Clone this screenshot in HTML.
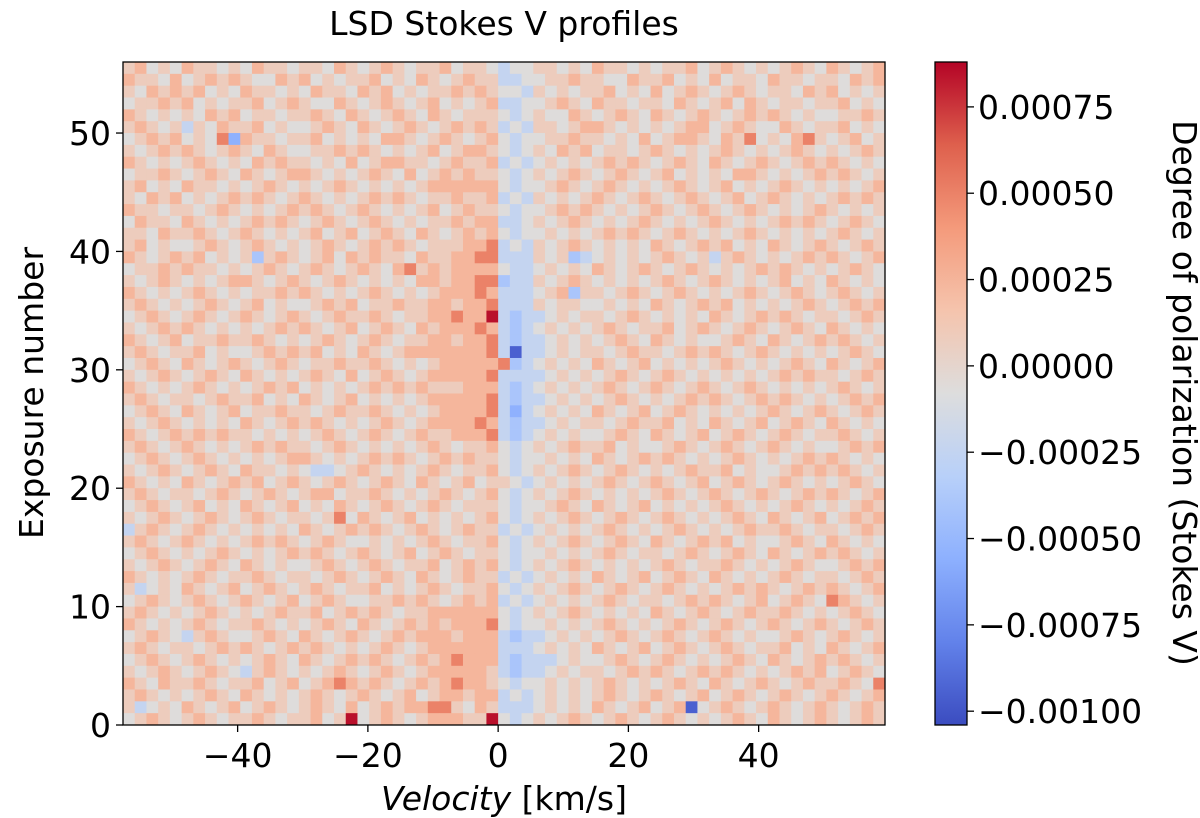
<!DOCTYPE html>
<html><head><meta charset="utf-8"><style>
html,body{margin:0;padding:0;background:#fff;}
svg{display:block;font-family:"DejaVu Sans","Liberation Sans",sans-serif;}
</style></head><body>
<svg id="chart" width="1200" height="818" xmlns="http://www.w3.org/2000/svg">
<text x="504" y="35" font-size="33" text-anchor="middle">LSD Stokes V profiles</text>
<g id="cells"></g>
<g id="axes"></g>
<text x="504" y="810" font-size="33" text-anchor="middle"><tspan font-style="italic">Velocity</tspan> [km/s]</text>
<text transform="translate(43,393) rotate(-90)" font-size="33" text-anchor="middle">Exposure number</text>
<g id="cbar"></g>
<text transform="translate(1173,393) rotate(90)" font-size="33" text-anchor="middle">Degree of polarization (Stokes V)</text>
</svg>
<script>
// data: rows from top (exposure 55) to bottom (exposure 0), 65 velocity bins each
const rowCodes = [
"67565 76656 57665 66576 56765 66756 65455 66565 76656 56675 67656 56765 76567",
"76657 56767 65576 75656 67565 76567 66445 56676 65576 67565 75665 76656 65767",
"65767 67565 76656 57665 76756 56676 76554 65656 67565 75676 56765 66576 75656",
"56676 75656 67567 65576 56765 67565 67445 56765 76656 65765 67576 56656 67565",
"76565 65767 56656 67657 65676 57656 66545 65576 56765 76567 65676 76565 56676",
"67656 46576 67565 56765 76567 65676 76454 66567 76565 65677 56765 57656 67565",
"56767 56582 76656 67565 65776 56765 67545 56676 65657 56776 57685 65786 56756",
"65676 76567 65765 56676 76565 67567 76545 65767 56656 76565 67656 56765 65676",
"76565 67656 57676 65657 56776 65676 67454 56565 67676 56765 76567 65676 76565",
"56676 56765 76567 76565 67657 56767 66545 65676 56765 67565 65776 56567 67656",
"67565 76656 56765 65676 56565 67777 77545 56765 67656 56765 67565 67656 56567",
"65767 56567 67656 76565 67676 56676 67454 65656 76567 65676 56756 76565 67676",
"76656 65676 56567 67656 76565 67567 66545 56767 65656 76567 65676 56567 65656",
"57665 76565 67676 56765 67656 56676 77445 65676 56567 65656 76565 67676 56765",
"66576 67656 76565 67567 56765 76567 67545 56565 67676 56765 65676 56565 67656",
"67565 56765 67656 56765 67676 56667 78454 65676 56565 76567 67565 76567 65676",
"76567 67565 63676 56757 67665 76677 88444 65634 56565 67656 46765 65676 76567",
"56676 76656 56765 67656 76578 67677 77544 56565 76567 65676 56567 67656 56765",
"65676 56567 76567 65676 56565 77677 88344 65676 56565 67656 76565 67565 76565",
"76565 67656 56676 76565 67656 56777 87444 56736 65676 56765 65676 56765 67656",
"67656 56765 67565 56767 56676 67767 78444 65665 56565 76567 67565 65676 56767",
"56765 67656 76567 65676 67656 67787 79434 45656 65676 56565 76567 67656 65676",
"65676 76565 65676 76567 56765 76777 87434 56565 67656 67567 65676 56765 76565",
"76567 56676 67656 56765 67656 67767 78434 45656 56765 76565 56765 76567 67656",
"67656 67565 56767 67565 76567 77777 78404 45656 65676 65676 76567 65656 56765",
"56765 76567 65676 56676 67656 56777 77834 56565 76567 56565 67656 56765 76567",
"65676 56765 76565 67657 56765 67777 78444 45656 56765 67656 56565 67676 65676",
"76565 67656 56767 56565 67676 76667 77434 56565 67656 76567 65676 56565 67656",
"67656 65676 67565 76567 56565 67777 78434 45656 56765 65676 76567 67656 56767",
"56765 76567 56676 65676 67656 56777 78424 56565 76567 56765 65656 76567 65676",
"65676 56565 76567 67656 56765 67777 87434 45656 65676 67565 76567 56765 76565",
"76567 67676 65656 56765 67656 76677 78434 56565 56765 76567 56765 67656 67656",
"67656 76565 67676 65676 56565 67656 67545 65676 67565 56765 67656 76565 56767",
"56765 67656 56567 76565 67676 56767 66545 56565 76567 67656 56765 65676 76565",
"65676 56765 76656 54456 76565 67656 67545 65676 56765 65676 67565 56767 67656",
"76565 76567 67567 65676 56765 76567 56654 56565 67656 76567 56765 67656 56765",
"67656 65676 56765 67756 67656 56765 67545 65676 56565 67656 76567 65676 76567",
"56765 67565 76567 56576 56765 67656 66545 56765 76567 56565 67656 56765 65676",
"65676 56765 67656 65685 76567 56565 67545 65676 56765 67656 56765 76567 56767",
"46765 67656 56565 76567 67656 76567 66454 56565 67656 56765 65676 67656 65676",
"67656 76565 67676 56765 56565 67656 67545 65676 56765 76567 67565 56765 76565",
"56765 65676 56567 67656 76567 56765 66545 56565 67656 65676 56765 76567 67656",
"65676 56765 76565 56765 67656 67567 67545 65676 56565 67656 67656 56765 56767",
"76565 67656 67656 65676 56765 76567 66454 56565 76567 56765 76565 67656 65676",
"64565 76567 56765 67656 67565 67656 67545 65676 56765 67656 56767 65676 76567",
"56765 67656 76567 56765 56676 76567 67454 56565 67656 65676 76567 56765 87656",
"67656 56765 65676 67567 67656 67777 77545 65676 56565 76567 65676 67656 56765",
"76565 67656 67656 56765 76567 67677 78545 56565 67656 56765 67656 76567 65676",
"56765 46765 56765 76567 65676 77767 77434 45656 56765 67656 76565 56765 67656",
"67656 65676 76567 67656 56765 67777 77444 56565 76567 56765 67656 67565 76567",
"56765 67656 56765 76567 67656 76787 77434 44565 56765 67656 56765 76567 67656",
"65676 56765 46765 65676 56765 67777 76434 45656 65676 76567 67656 56767 56765",
"76576 67656 67567 56787 67656 76787 76545 56565 67656 56765 76567 65676 67658",
"67656 56765 76565 67656 76567 56776 77454 56565 67656 76567 56765 67656 76567",
"64565 76567 56765 67657 56767 78865 76444 56565 76567 56705 67656 76567 65676",
"56765 67656 67656 67569 56765 67776 69545 65676 56765 67656 56765 76567 65676"
];
const codeValues = [-0.00095,-0.00075,-0.00055,-0.0004,-0.00024,-0.00007,0.00008,0.00024,0.0005,0.00085];
const xTicks = [-40,-20,0,20,40];
const yTicks = [0,10,20,30,40,50];
const cbTicks = [0.00075,0.0005,0.00025,0,-0.00025,-0.0005,-0.00075,-0.001];
const cbLabels = ["0.00075","0.00050","0.00025","0.00000","\u22120.00025","\u22120.00050","\u22120.00075","\u22120.00100"];

const NS="http://www.w3.org/2000/svg";
const P={l:123,r:885,t:62,b:725};
const VMIN=-57.6, VMAX=59.4, DV=1.8, NROWS=56;
const CMIN=-0.00104, CMAX=0.00088;
const xs=v=>P.l+(v-VMIN)/(VMAX-VMIN)*(P.r-P.l);
const ys=e=>P.b-e/NROWS*(P.b-P.t);
const stops=[[0,59,76,192],[0.125,98,130,234],[0.25,141,176,254],[0.375,184,208,249],[0.5,221,221,221],[0.625,245,196,173],[0.75,244,154,123],[0.875,222,96,77],[1,180,4,38]];
function cmap(val){
  let t=(val-CMIN)/(CMAX-CMIN); t=Math.max(0,Math.min(1,t));
  for(let i=1;i<stops.length;i++){ if(t<=stops[i][0]){const a=stops[i-1],b=stops[i];const f=(t-a[0])/(b[0]-a[0]);
    return `rgb(${Math.round(a[1]+f*(b[1]-a[1]))},${Math.round(a[2]+f*(b[2]-a[2]))},${Math.round(a[3]+f*(b[3]-a[3]))})`;}}
  return "rgb(180,4,38)";
}
function mk(tag,attrs,parent){const e=document.createElementNS(NS,tag);for(const k in attrs)e.setAttribute(k,attrs[k]);parent.appendChild(e);return e;}
const cells=document.getElementById('cells');
rowCodes.forEach((rs,ri)=>{
  const codes=rs.replace(/ /g,'');
  const exp=NROWS-1-ri;
  for(let i=0;i<codes.length;i++){
    const v0=VMIN+i*DV;
    const x0=xs(v0),x1=xs(v0+DV),y0=ys(exp+1),y1=ys(exp);
    const r=mk('rect',{x:x0.toFixed(2),y:y0.toFixed(2),width:(x1-x0+0.4).toFixed(2),height:(y1-y0+0.4).toFixed(2),fill:cmap(codeValues[+codes[i]])},cells);
    
    
  }
});
const axes=document.getElementById('axes');
const frame=mk('rect',{x:P.l,y:P.t,width:P.r-P.l,height:P.b-P.t,fill:'none',stroke:'#000','stroke-width':1.3},axes);


xTicks.forEach(v=>{
  const x=xs(v);
  mk('line',{x1:x,x2:x,y1:P.b,y2:P.b+7,stroke:'#000','stroke-width':1.3},axes);
  const t=mk('text',{x:x,y:P.b+42,'font-size':33,'text-anchor':'middle'},axes);
  t.textContent=(v<0?'\u2212':'')+Math.abs(v);
  
  
});
yTicks.forEach(e=>{
  const y=ys(e);
  mk('line',{x1:P.l-7,x2:P.l,y1:y,y2:y,stroke:'#000','stroke-width':1.3},axes);
  const t=mk('text',{x:P.l-12,y:y+12,'font-size':33,'text-anchor':'end'},axes);
  t.textContent=e;
  
  
});
const cb=document.getElementById('cbar');
const CB={l:935,r:967,t:62,b:725};
const cys=v=>CB.b-(v-CMIN)/(CMAX-CMIN)*(CB.b-CB.t);
const defs=mk('defs',{},cb);
const grad=mk('linearGradient',{id:'cg',x1:0,y1:1,x2:0,y2:0},defs);
stops.forEach(s=>mk('stop',{offset:s[0],'stop-color':`rgb(${s[1]},${s[2]},${s[3]})`},grad));
const cbr=mk('rect',{x:CB.l,y:CB.t,width:CB.r-CB.l,height:CB.b-CB.t,fill:'url(#cg)',stroke:'#000','stroke-width':1.3},cb);


cbTicks.forEach((v,i)=>{
  const y=cys(v);
  mk('line',{x1:CB.r,x2:CB.r+7,y1:y,y2:y,stroke:'#000','stroke-width':1.3},cb);
  const t=mk('text',{x:CB.r+11,y:y+12,'font-size':33},cb);
  t.textContent=cbLabels[i];
  
  
});
</script>
</body></html>
